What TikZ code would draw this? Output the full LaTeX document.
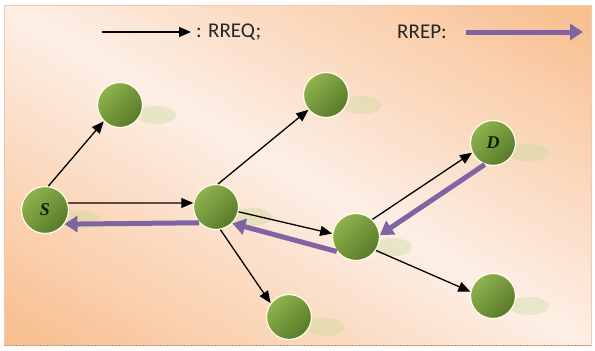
\documentclass[tikz,border=0pt]{standalone}
\usepackage{fontspec}
\setmainfont{Carlito}
\newfontfamily\labfont{Liberation Serif}
\usetikzlibrary{arrows.meta,calc}
\definecolor{bgorange}{HTML}{F8BE8E}
\definecolor{bglight}{HTML}{FDEFE6}
\definecolor{ballA}{HTML}{8FB34E}
\definecolor{ballB}{HTML}{587A29}
\definecolor{rrep}{HTML}{8064A2}
\definecolor{shadowc}{HTML}{C9DB9C}
\definecolor{framec}{HTML}{EFC9AE}
\definecolor{bottomc}{HTML}{B8947A}
\tikzset{
  ball/.style={circle, minimum size=45pt, inner sep=0pt, draw=white!92!yellow, line width=1.2pt,
    top color=ballA, bottom color=ballB, shading angle=45,
    font=\labfont\bfseries\itshape\fontsize{18}{18}\selectfont, text=black!85!green},
  bigball/.style={ball, minimum size=47pt},
  req/.style={-{Triangle[length=12pt,width=10pt]}, line width=1.3pt, black},
  rep/.style={-{Triangle[length=13pt,width=16pt]}, line width=5pt, rrep},
  legendtxt/.style={font=\fontsize{21}{24}\selectfont, text=black!85, inner sep=0pt, anchor=west},
  shadowblob/.style={fill=shadowc, fill opacity=0.4}
}
\begin{document}
\begin{tikzpicture}[x=1pt,y=-1pt]
\useasboundingbox (0,0) rectangle (595,351);
% background
\begin{scope}
\clip (4,5) rectangle (591,345);
\begin{scope}[rotate around={-30:(297,175)}]
\foreach \i in {0,...,49}{
  \pgfmathsetmacro\yy{-125+12*\i}
  \pgfmathsetmacro\pp{min(100,abs(\yy+6-175)/290*100)}
  \fill[bgorange!\pp!bglight] (-150,\yy) rectangle (750,\yy+12.6);
}
\end{scope}
\end{scope}
\draw[framec, line width=0.8pt] (4,5) rectangle (591,345);
\draw[bottomc, line width=1.6pt, dash pattern=on 2pt off 1pt] (4,345.5) -- (591,345.5);
% shadows
\foreach \x/\y in {120/105, 45/210, 216/207, 326/95, 356/237, 493/143, 289/317, 493/296}
  \fill[shadowblob] (\x+36,\y+10) ellipse (20 and 9);
% nodes
\node[ball] (N1) at (120,105) {};
\node[bigball] (S) at (45,210) {S};
\node[ball] (A) at (216,207) {};
\node[ball] (N2) at (326,95) {};
\node[bigball] (B) at (356,237) {};
\node[ball] (D) at (493,143) {D};
\node[ball] (N3) at (289,317) {};
\node[ball] (N4) at (493,296) {};
% legend
\coordinate (l1a) at (102,32);
\coordinate (l1b) at (191,32);
\draw[req] (l1a) -- (l1b);
\node[legendtxt] (t1) at (196,32) {: RREQ;};
\node[legendtxt] (t2) at (397,32) {RREP:};
\coordinate (l2a) at (466,32);
\coordinate (l2b) at (583,32);
\draw[rep] (l2a) -- (l2b);
% RREQ arrows
\draw[req] (S.82) -- (N1.225);
\draw[req] (S.17) -- (A.170);
\draw[req] (A.85) -- (N2.220);
\draw[req] (A.-12) -- (B.172);
\draw[req] (A.-79) -- (N3.143);
\draw[req] (B.47) -- (D.205);
\draw[req] (B.-34) -- (N4.169);
% RREP arrows
\draw[rep] (D.249) -- (B.5);
\draw[rep] (B.217) -- (A.-45);
\draw[rep] (A.223) -- (S.-36);
\end{tikzpicture}
\end{document}
